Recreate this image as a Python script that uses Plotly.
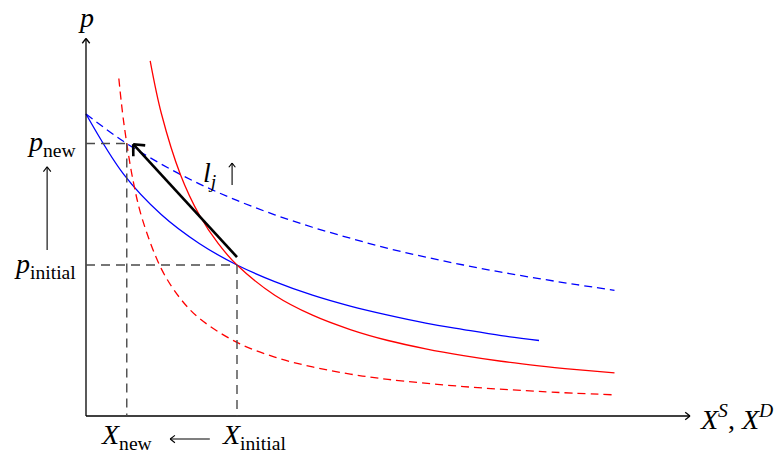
import math
import plotly.graph_objects as go

# Supply (blue) and demand (red) schedules, before (solid) and after (dashed)
supply_x = [0, 1, 2, 3, 4, 5, 6, 7, 8, 9, 10, 11, 12]
supply_p = [8.00, 6.40, 5.33, 4.57, 4.00, 3.56, 3.20, 2.91, 2.67, 2.46, 2.29, 2.13, 2.00]

supply_new_x = [0, 1, 2, 3, 4, 5, 6, 7, 8, 9, 10, 11, 12, 13, 14]
supply_new_p = [8.00, 7.27, 6.67, 6.15, 5.71, 5.33, 5.00, 4.71, 4.44, 4.21, 4.00, 3.81, 3.64, 3.48, 3.33]

demand_x = [1.7, 2, 2.5, 3, 3.5, 4, 5, 6, 7, 8, 9, 10, 11, 12, 13, 14]
demand_p = [9.41, 8.00, 6.40, 5.33, 4.57, 4.00, 3.20, 2.67, 2.29, 2.00, 1.78, 1.60, 1.45, 1.33, 1.23, 1.14]

demand_new_x = [0.87, 1, 1.25, 1.5, 2, 2.5, 3, 4, 5, 6, 7, 8, 10, 12, 14]
demand_new_p = [8.94, 7.78, 6.22, 5.19, 3.89, 3.11, 2.59, 1.95, 1.56, 1.30, 1.11, 0.97, 0.78, 0.65, 0.56]

# Equilibria
x_initial, p_initial = 4.0, 4.0
x_new, p_new = 1.08, 7.22

# Shift arrow (tail -> tip)
shift_tail = (4.0, 4.21)
shift_tip = (1.25, 7.20)

# Axis extents
x_axis_end = 16.0
y_axis_end = 10.0

FONT = "Liberation Serif"
FS = 28
BLUE = "#0000ff"
RED = "#ff0000"
GUIDE = "#4a4a4a"

fig = go.Figure()

def curve(xs, ys, color, dash):
    fig.add_trace(go.Scatter(
        x=xs, y=ys, mode="lines",
        line=dict(color=color, width=1.3, dash=dash, shape="spline", smoothing=1.0),
        hoverinfo="skip", showlegend=False))

curve(supply_x, supply_p, BLUE, "solid")
curve(supply_new_x, supply_new_p, BLUE, "8px,5px")
curve(demand_x, demand_p, RED, "solid")
curve(demand_new_x, demand_new_p, RED, "8px,5px")

shapes = []

def seg(x0, y0, x1, y1, color="black", width=1.3, dash="solid"):
    shapes.append(dict(type="line", x0=x0, y0=y0, x1=x1, y1=y1, xref="x", yref="y",
                       line=dict(color=color, width=width, dash=dash)))

def arrow(x0, y0, x1, y1, color="black", width=1.3, head=0.16, spread=38):
    """Line from (x0,y0) to (x1,y1) with an open chevron head at the end."""
    seg(x0, y0, x1, y1, color, width)
    ang = math.atan2(y0 - y1, x0 - x1)
    for s in (-1, 1):
        a = ang + s * math.radians(spread)
        seg(x1, y1, x1 + head * math.cos(a), y1 + head * math.sin(a), color, width)

# Coordinate axes
arrow(0, 0, x_axis_end, 0)
arrow(0, 0, 0, y_axis_end)

# Guide lines to equilibria
seg(0, p_initial, x_initial, p_initial, GUIDE, 1.4, "9px,6px")
seg(x_initial, p_initial, x_initial, 0, GUIDE, 1.4, "9px,6px")
seg(0, p_new, x_new, p_new, GUIDE, 1.4, "9px,6px")
seg(x_new, p_new, x_new, 0, GUIDE, 1.4, "9px,6px")

# Shift of the equilibrium
arrow(shift_tail[0], shift_tail[1], shift_tip[0], shift_tip[1], "black", 2.6, head=0.32, spread=42)

# Price-change and quantity-change indicators
arrow(-1.03, 4.40, -1.03, 6.60, "black", 1.1, head=0.16)
arrow(3.28, -0.61, 2.23, -0.61, "black", 1.1, head=0.16)
# Upward arrow next to l_j
arrow(3.87, 6.12, 3.87, 6.70, "black", 1.1, head=0.14)

annotations = []

def label(x, y, text, xanchor="center", yanchor="middle", size=FS):
    annotations.append(dict(x=x, y=y, xref="x", yref="y", text=text, showarrow=False,
                            xanchor=xanchor, yanchor=yanchor,
                            font=dict(family=FONT, size=size, color="black")))

label(0, 10.55, "<i>p</i>")
label(-0.2, p_new, "<i>p</i><sub>new</sub>", xanchor="right")
label(-0.2, p_initial, "<i>p</i><sub>initial</sub>", xanchor="right")
label(x_new, -0.55, "<i>X</i><sub>new</sub>")
label(3.55, -0.55, "<i>X</i><sub>initial</sub>", xanchor="left")
label(16.2, -0.05, "<i>X</i><sup><i>S</i></sup>, <i>X</i><sup><i>D</i></sup>", xanchor="left")
label(3.28, 6.4, "<i>l</i><sub><i>j</i></sub>")

px_per_unit = 37.75
fig.update_layout(
    width=782, height=454,
    margin=dict(l=0, r=0, t=0, b=0),
    paper_bgcolor="white", plot_bgcolor="white",
    xaxis=dict(range=[-86 / px_per_unit, (782 - 86) / px_per_unit], visible=False, fixedrange=True),
    yaxis=dict(range=[-(454 - 416) / px_per_unit, 416 / px_per_unit], visible=False, fixedrange=True),
    shapes=shapes, annotations=annotations,
)

fig.write_html("out.html")
